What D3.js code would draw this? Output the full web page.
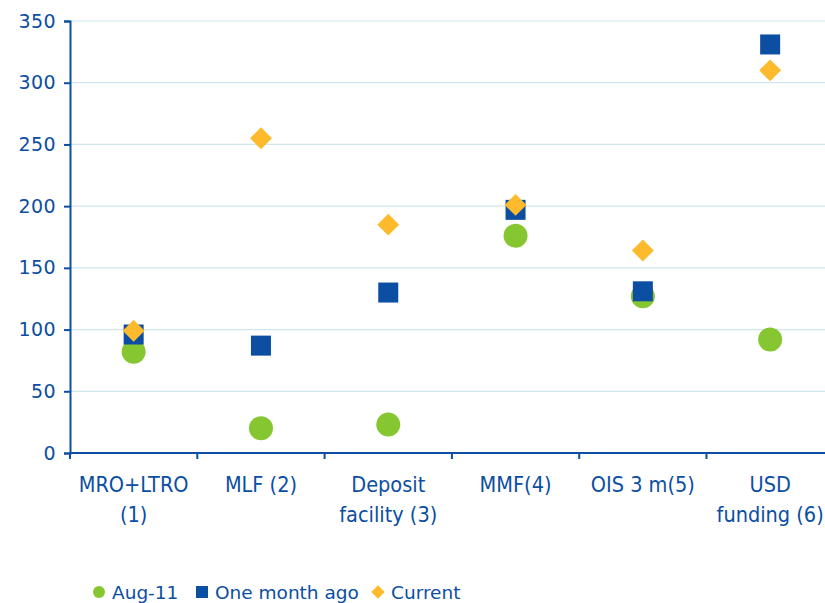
<!DOCTYPE html>
<html>
<head>
<meta charset="utf-8">
<script src="https://cdn.jsdelivr.net/npm/d3@7"></script>
<style>
  body { margin: 0; background: #fff; }
  svg text { font-family: "DejaVu Sans", sans-serif; fill: #0B4EA2; }
  svg text.cat { font-family: "DejaVu Sans Condensed", "DejaVu Sans", sans-serif; font-stretch: condensed; }
</style>
</head>
<body>
<div class="chart"></div>
<script>
// chart data
const categories = ["MRO+LTRO (1)", "MLF (2)", "Deposit facility (3)", "MMF(4)", "OIS 3 m(5)", "USD funding (6)"];
const categoryLines = [["MRO+LTRO", "(1)"], ["MLF (2)"], ["Deposit", "facility (3)"], ["MMF(4)"], ["OIS 3 m(5)"], ["USD", "funding (6)"]];
const aug11 = [82, 20, 23, 176, 127, 92];
const oneMonthAgo = [96, 87, 130, 197, 131, 331];
const current = [99, 255, 185, 201, 164, 310];
const yTicks = [0, 50, 100, 150, 200, 250, 300, 350];

const width = 825, height = 603;
const plotLeft = 70, plotTop = 21, plotBottom = 453;
const bandWidth = 127.3;

const blue = "#0B4EA2", green = "#86C630", yellow = "#FDBA2C", grid = "#CFE5F0";

const svg = d3.select(".chart").append("svg")
  .attr("width", width)
  .attr("height", height);

const x = d3.scaleBand()
  .domain(categories)
  .range([plotLeft, plotLeft + bandWidth * categories.length])
  .padding(0);

const y = d3.scaleLinear()
  .domain([0, 350])
  .range([plotBottom, plotTop]);

// gridlines
svg.append("g")
  .selectAll("line")
  .data(yTicks.filter(d => d > 0))
  .join("line")
  .attr("x1", plotLeft).attr("x2", width)
  .attr("y1", d => y(d)).attr("y2", d => y(d))
  .attr("stroke", grid)
  .attr("stroke-width", 1.2);

// y axis
const yAxis = d3.axisLeft(y).tickValues(yTicks).tickSize(6).tickPadding(8);
const yG = svg.append("g").attr("transform", "translate(" + plotLeft + ",0)").call(yAxis);
yG.attr("font-family", null).attr("font-size", null);
yG.select(".domain").attr("stroke", blue).attr("stroke-width", 2);
yG.selectAll(".tick line").attr("stroke", blue).attr("stroke-width", 2);
yG.selectAll(".tick text").attr("font-size", 19).attr("letter-spacing", 0.4).attr("fill", blue);

// x axis
svg.append("line")
  .attr("x1", plotLeft).attr("x2", width)
  .attr("y1", plotBottom).attr("y2", plotBottom)
  .attr("stroke", blue).attr("stroke-width", 2);

svg.append("g")
  .selectAll("line")
  .data(categories)
  .join("line")
  .attr("x1", d => x(d)).attr("x2", d => x(d))
  .attr("y1", plotBottom).attr("y2", plotBottom + 6)
  .attr("stroke", blue).attr("stroke-width", 2);

const cx = d => x(d) + x.bandwidth() / 2;

const labels = svg.append("g")
  .selectAll("text")
  .data(categories)
  .join("text")
  .attr("class", "cat")
  .attr("x", d => cx(d))
  .attr("y", 492)
  .attr("text-anchor", "middle")
  .attr("font-size", 21.5);

labels.each(function (d, i) {
  const t = d3.select(this);
  categoryLines[i].forEach((line, j) => {
    t.append("tspan")
      .attr("x", cx(d))
      .attr("dy", j === 0 ? 0 : 29.5)
      .text(line);
  });
});

// Aug-11 circles
svg.append("g")
  .selectAll("circle")
  .data(categories)
  .join("circle")
  .attr("cx", d => cx(d))
  .attr("cy", (d, i) => y(aug11[i]))
  .attr("r", 12)
  .attr("fill", green);

// One month ago squares
const sq = 20;
svg.append("g")
  .selectAll("rect")
  .data(categories)
  .join("rect")
  .attr("x", d => cx(d) - sq / 2)
  .attr("y", (d, i) => y(oneMonthAgo[i]) - sq / 2)
  .attr("width", sq)
  .attr("height", sq)
  .attr("fill", blue);

// Current diamonds
const diamond = d3.symbol().type(d3.symbolSquare).size(240);
svg.append("g")
  .selectAll("path")
  .data(categories)
  .join("path")
  .attr("d", diamond)
  .attr("transform", (d, i) => "translate(" + cx(d) + "," + y(current[i]) + ") rotate(45)")
  .attr("fill", yellow);

// legend
const legend = svg.append("g").attr("transform", "translate(0,592)");
legend.append("circle").attr("cx", 99).attr("cy", 0).attr("r", 6).attr("fill", green);
legend.append("text").attr("x", 112).attr("y", 6.8).attr("font-size", 18.5).text("Aug-11");
legend.append("rect").attr("x", 196).attr("y", -6).attr("width", 12).attr("height", 12).attr("fill", blue);
legend.append("text").attr("x", 215).attr("y", 6.8).attr("font-size", 18.5).text("One month ago");
legend.append("path").attr("d", d3.symbol().type(d3.symbolSquare).size(90))
  .attr("transform", "translate(378,0) rotate(45)").attr("fill", yellow);
legend.append("text").attr("x", 391).attr("y", 6.8).attr("font-size", 18.5).text("Current");
</script>
</body>
</html>
